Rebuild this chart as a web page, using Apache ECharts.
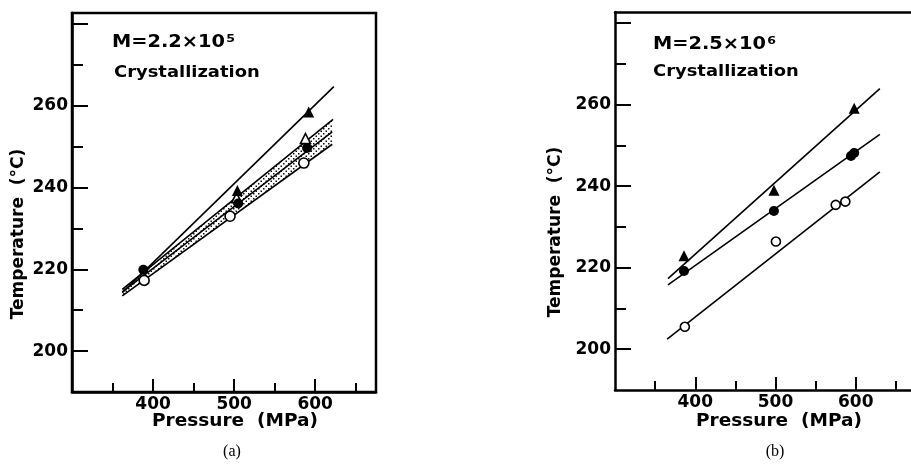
<!DOCTYPE html>
<html>
<head>
<meta charset="utf-8">
<script src="https://cdn.jsdelivr.net/npm/echarts@6/dist/echarts.min.js"></script>
<style>html,body{margin:0;padding:0;background:#fff}#c{width:911px;height:467px}</style>
</head>
<body>
<div id="c"></div>
<script>
// ---- tick values ----
const xTicksMajor = [400, 500, 600];
const xTicksMinor = [350, 450, 550, 650];
const yTicksMajor = [200, 220, 240, 260, 280];
const yTickLabels = [200, 220, 240, 260];
const yTicksMinor = [210, 230, 250, 270];

// ---- panel (a): M = 2.2x10^5 ----
const aFilledTri = [[504, 239.3], [592, 258.5]];
const aOpenTri = [[503, 237.5], [588, 252]];
const aFilledCirc = [[388, 219.9], [505, 236.1], [590, 249.7]];
const aOpenCirc = [[389, 217.3], [495, 233], [586, 246]];
const aLineFilledTri = [[362, 214.3], [623, 264.7]];
const aLineOpenTri = [[362, 215.1], [622, 256.7]];
const aLineFilledCirc = [[362, 214.5], [621, 253.6]];
const aLineOpenCirc = [[362, 213.5], [621, 250.6]];

// ---- panel (b): M = 2.5x10^6 ----
const bFilledTri = [[386, 222.9], [498, 239.0], [598, 259.1]];
const bFilledCirc = [[386, 219.2], [498, 233.9], [594, 247.4], [598, 248.1]];
const bOpenCirc = [[387, 205.5], [500.5, 226.4], [575, 235.4], [587, 236.2]];
const bLineTri = [[366, 217.3], [630, 263.9]];
const bLineFilledCirc = [[366, 215.8], [630, 252.7]];
const bLineOpenCirc = [[365, 202.5], [630, 243.5]];

const FONT = '"DejaVu Sans", sans-serif';

// stipple pattern
const pc = document.createElement('canvas');
pc.width = 5; pc.height = 5;
const pctx = pc.getContext('2d');
pctx.fillStyle = '#111';
pctx.fillRect(0.5, 0.5, 1.5, 1.5);
pctx.fillRect(3, 3, 1.5, 1.5);
const stipple = {image: pc, repeat: 'repeat'};

function xAxes(grid, max) {
  return [
    {gridIndex: grid, type: 'value', position: 'bottom', min: 300, max: max,
     axisLine: {show: true, lineStyle: {color: '#000', width: 2.5}},
     axisTick: {show: true, inside: true, length: 13, lineStyle: {color: '#000', width: 2}, customValues: xTicksMajor},
     axisLabel: {show: true, customValues: xTicksMajor, color: '#000', fontFamily: FONT, fontWeight: 'bold', fontSize: 17, margin: 4},
     splitLine: {show: false}},
    {gridIndex: grid, type: 'value', position: 'bottom', min: 300, max: max,
     axisLine: {show: false},
     axisTick: {show: true, inside: true, length: 9, lineStyle: {color: '#000', width: 2}, customValues: xTicksMinor},
     axisLabel: {show: false}, splitLine: {show: false}}
  ];
}
function yAxes(grid) {
  return [
    {gridIndex: grid, type: 'value', position: 'left', min: 190, max: 282.7,
     axisLine: {show: true, lineStyle: {color: '#000', width: 2.5}},
     axisTick: {show: true, inside: true, length: 16, lineStyle: {color: '#000', width: 2}, customValues: yTicksMajor},
     axisLabel: {show: true, customValues: yTickLabels, color: '#000', fontFamily: FONT, fontWeight: 'bold', fontSize: 17, margin: 4},
     splitLine: {show: false}},
    {gridIndex: grid, type: 'value', position: 'left', min: 190, max: 282.7,
     axisLine: {show: false},
     axisTick: {show: true, inside: true, length: 11, lineStyle: {color: '#000', width: 2}, customValues: yTicksMinor},
     axisLabel: {show: false}, splitLine: {show: false}}
  ];
}
// top frame line for panel (b) (its right edge lies outside the picture)
const bTopFrame = {gridIndex: 1, type: 'value', position: 'top', min: 300, max: 668.8,
  axisLine: {show: true, lineStyle: {color: '#000', width: 2.5}},
  axisTick: {show: false}, axisLabel: {show: false}, splitLine: {show: false}};

function lineSeries(data, xi, yi) {
  return {type: 'line', xAxisIndex: xi, yAxisIndex: yi, data: data, symbol: 'none',
          lineStyle: {color: '#000', width: 1.6}, z: 3, silent: true};
}
function pts(data, xi, yi, shape, filled, size) {
  return {type: 'scatter', xAxisIndex: xi, yAxisIndex: yi, data: data, symbol: shape, symbolSize: size,
          itemStyle: {color: filled ? '#000' : '#fff', borderColor: '#000', borderWidth: filled ? 0 : 1.6, opacity: 1}, z: 5};
}

const series = [
  {type: 'custom', xAxisIndex: 0, yAxisIndex: 0, data: [aLineOpenTri[0]], z: 2, silent: true,
   renderItem: function (params, api) {
     const poly = aLineOpenTri.concat(aLineOpenCirc.slice().reverse()).map(p => api.coord(p));
     return {type: 'polygon', shape: {points: poly}, style: {fill: stipple, stroke: null}};
   }},
  lineSeries(aLineFilledTri, 0, 0),
  lineSeries(aLineOpenTri, 0, 0),
  lineSeries(aLineFilledCirc, 0, 0),
  lineSeries(aLineOpenCirc, 0, 0),
  pts(aOpenTri, 0, 0, 'triangle', false, 10),
  pts(aFilledTri, 0, 0, 'triangle', true, 11),
  pts(aOpenCirc, 0, 0, 'circle', false, 10),
  pts(aFilledCirc, 0, 0, 'circle', true, 10),
  lineSeries(bLineTri, 2, 2),
  lineSeries(bLineFilledCirc, 2, 2),
  lineSeries(bLineOpenCirc, 2, 2),
  pts(bFilledTri, 2, 2, 'triangle', true, 11),
  pts(bFilledCirc, 2, 2, 'circle', true, 10),
  pts(bOpenCirc, 2, 2, 'circle', false, 9)
];

function txt(x, y, text, opts) {
  return Object.assign({type: 'text', x: x, y: y, silent: true,
    style: Object.assign({text: text, fill: '#000', font: 'bold 16px ' + FONT,
      align: 'left', verticalAlign: 'middle', textAlign: 'left', textVerticalAlign: 'middle'}, opts.style || {})},
    opts.el || {});
}
const richM = {
  m: {fontFamily: FONT, fontWeight: 'bold', fontSize: 17, fill: '#000'},
  s: {fontFamily: FONT, fontWeight: 'bold', fontSize: 11, fill: '#000', verticalAlign: 'top', padding: [0, 0, 8, 1]}
};
const CENTER = {align: 'center', textAlign: 'center', font: 'bold 17px ' + FONT};

const graphics = [
  txt(112, 43, '{m|M=2.2×10}{s|5}', {style: {rich: richM}, el: {scaleX: 1.14}}),
  txt(114, 73, 'Crystallization', {el: {scaleX: 1.12}}),
  txt(653, 45, '{m|M=2.5×10}{s|6}', {style: {rich: richM}, el: {scaleX: 1.14}}),
  txt(653, 72, 'Crystallization', {el: {scaleX: 1.12}}),
  txt(235, 422, 'Pressure  (MPa)', {style: CENTER, el: {scaleX: 1.09}}),
  txt(779, 422, 'Pressure  (MPa)', {style: CENTER, el: {scaleX: 1.09}}),
  txt(19, 234, 'Temperature  (°C)', {style: CENTER, el: {rotation: Math.PI / 2}}),
  txt(556, 232, 'Temperature  (°C)', {style: CENTER, el: {rotation: Math.PI / 2}}),
  txt(232, 452, '(a)', {style: {align: 'center', textAlign: 'center', font: '16px "Liberation Serif", serif'}}),
  txt(775, 452, '(b)', {style: {align: 'center', textAlign: 'center', font: '16px "Liberation Serif", serif'}})
];

const chart = echarts.init(document.getElementById('c'), null, {renderer: 'canvas'});
chart.setOption({
  animation: false,
  backgroundColor: '#fff',
  grid: [
    {left: 72, top: 13, width: 304, height: 379, show: true, borderColor: '#000', borderWidth: 2.5, backgroundColor: 'transparent'},
    {left: 615, top: 12, width: 296, height: 378, show: false}
  ],
  xAxis: xAxes(0, 675).concat(xAxes(1, 668.8)).concat([bTopFrame]),
  yAxis: yAxes(0).concat(yAxes(1)),
  series: series,
  graphic: graphics
});
</script>
</body>
</html>
